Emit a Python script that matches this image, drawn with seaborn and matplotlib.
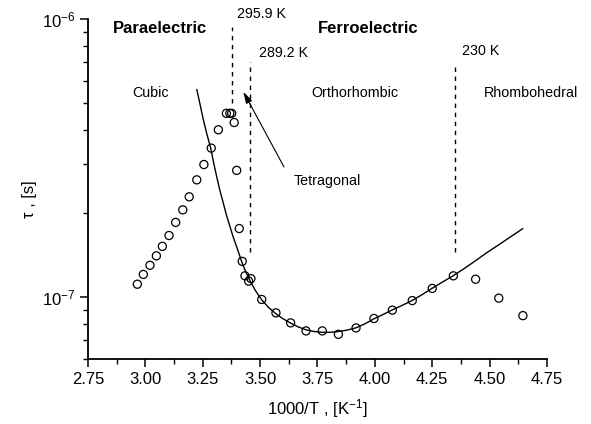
import numpy as np
import pandas as pd
import matplotlib
matplotlib.use("Agg")
import matplotlib.pyplot as plt
import matplotlib.ticker as mticker
import seaborn as sns

# Measured relaxation times, tau [s], vs inverse temperature 1000/T [1/K]
inv_T = [2.965, 2.991, 3.020, 3.048, 3.074, 3.103, 3.132, 3.163, 3.191, 3.224,
         3.255, 3.287, 3.318, 3.353, 3.368, 3.376, 3.387, 3.398, 3.409, 3.422,
         3.434, 3.450, 3.460, 3.507, 3.569, 3.633, 3.700, 3.771, 3.841, 3.918,
         3.996, 4.076, 4.163, 4.250, 4.342, 4.439, 4.540, 4.645]
tau = [1.114e-7, 1.208e-7, 1.303e-7, 1.409e-7, 1.524e-7, 1.667e-7, 1.858e-7,
       2.061e-7, 2.296e-7, 2.642e-7, 2.999e-7, 3.436e-7, 3.999e-7, 4.581e-7,
       4.581e-7, 4.581e-7, 4.246e-7, 2.858e-7, 1.766e-7, 1.346e-7, 1.194e-7,
       1.143e-7, 1.167e-7, 9.82e-8, 8.79e-8, 8.09e-8, 7.57e-8, 7.57e-8,
       7.36e-8, 7.76e-8, 8.39e-8, 8.99e-8, 9.73e-8, 1.076e-7, 1.194e-7,
       1.161e-7, 9.93e-8, 8.59e-8]

# Fitted curve
fit_inv_T = [3.224, 3.238, 3.252, 3.267, 3.285, 3.297, 3.311, 3.325, 3.340,
             3.354, 3.369, 3.383, 3.398, 3.420, 3.438, 3.456, 3.480, 3.507,
             3.536, 3.569, 3.600, 3.633, 3.665, 3.700, 3.735, 3.770, 3.804,
             3.839, 3.879, 3.918, 3.957, 3.996, 4.035, 4.075, 4.118, 4.162,
             4.205, 4.249, 4.293, 4.340, 4.388, 4.436, 4.487, 4.537, 4.589,
             4.645]
fit_tau = [5.585e-7, 4.945e-7, 4.368e-7, 3.889e-7, 3.426e-7, 3.059e-7,
           2.708e-7, 2.416e-7, 2.173e-7, 1.964e-7, 1.790e-7, 1.644e-7,
           1.517e-7, 1.340e-7, 1.230e-7, 1.147e-7, 1.055e-7, 9.795e-8,
           9.204e-8, 8.722e-8, 8.369e-8, 8.076e-8, 7.832e-8, 7.640e-8,
           7.534e-8, 7.483e-8, 7.483e-8, 7.527e-8, 7.621e-8, 7.768e-8,
           8.030e-8, 8.369e-8, 8.665e-8, 9.000e-8, 9.343e-8, 9.730e-8,
           1.021e-7, 1.076e-7, 1.132e-7, 1.193e-7, 1.266e-7, 1.348e-7,
           1.445e-7, 1.538e-7, 1.644e-7, 1.766e-7]

# Phase transition temperatures [K] and vertical extent of their markers
trans_T = [295.9, 289.2, 230.0]
trans_labels = ["295.9 K", "289.2 K", "230 K"]
trans_top = [9.36e-7, 7.02e-7, 6.93e-7]
trans_bottom = [4.97e-7, 1.456e-7, 1.456e-7]

x_ticks = [2.75, 3.00, 3.25, 3.50, 3.75, 4.00, 4.25, 4.50, 4.75]

sns.set_theme(style="ticks")
plt.rcParams["font.family"] = ["Liberation Sans", "DejaVu Sans"]
plt.rcParams["text.color"] = "black"
plt.rcParams["axes.labelcolor"] = "black"
plt.rcParams["mathtext.fontset"] = "custom"
plt.rcParams["mathtext.rm"] = "Liberation Sans"
plt.rcParams["mathtext.it"] = "Liberation Sans:italic"
plt.rcParams["mathtext.bf"] = "Liberation Sans:bold"

fig = plt.figure(figsize=(5.91, 4.24), dpi=100)
ax = fig.add_axes([0.1489, 0.1533, 0.7766, 0.8019])

points = pd.DataFrame({"x": inv_T, "tau": tau})
fit = pd.DataFrame({"x": fit_inv_T, "tau": fit_tau})

sns.lineplot(data=fit, x="x", y="tau", ax=ax, color="black", lw=1.0,
             estimator=None, sort=True)
sns.scatterplot(data=points, x="x", y="tau", ax=ax, marker="o", s=34,
                facecolor="none", edgecolor="black", linewidth=0.9, zorder=3)

for T, top, bot in zip(trans_T, trans_top, trans_bottom):
    xv = 1000.0 / T
    ax.plot([xv, xv], [bot, top], color="black", lw=1.0, ls=(0, (3.2, 3.3)))

ax.set_yscale("log")
ax.set_xlim(2.75, 4.75)
ax.set_ylim(6e-8, 1e-6)
ax.set_xticks(x_ticks)
ax.xaxis.set_major_formatter(mticker.FormatStrFormatter("%.2f"))
ax.xaxis.set_minor_locator(mticker.MultipleLocator(0.125))
ax.yaxis.set_major_locator(mticker.LogLocator(base=10))
ax.yaxis.set_minor_locator(mticker.LogLocator(base=10, subs=np.arange(2, 10)))
ax.yaxis.set_minor_formatter(mticker.NullFormatter())

sns.despine(ax=ax)
for side in ["left", "bottom"]:
    ax.spines[side].set_linewidth(1.3)
    ax.spines[side].set_color("black")
ax.tick_params(which="major", direction="out", length=6, width=1.1,
               labelsize=12, colors="black", pad=3)
ax.tick_params(which="minor", direction="out", length=3.5, width=1.0,
               colors="black")

ax.set_xlabel(r"1000/T , [K$^{\mathdefault{-1}}$]", fontsize=12, color="black")
ax.xaxis.set_label_coords(0.5, -0.113)
ax.set_ylabel("τ , [s]", fontsize=12, color="black")
ax.yaxis.set_label_coords(-0.111, 0.47)

# Phase annotations
ax.text(3.064, 8.88e-7, "Paraelectric", fontsize=12, fontweight="bold",
        ha="center", va="baseline", color="black")
ax.text(3.972, 8.88e-7, "Ferroelectric", fontsize=12, fontweight="bold",
        ha="center", va="baseline", color="black")
label_pos = [(3.399, 1.006e-6), (3.496, 7.32e-7), (4.378, 7.42e-7)]
for lbl, (lx, ly) in zip(trans_labels, label_pos):
    ax.text(lx, ly, lbl, fontsize=10.3, ha="left", va="baseline", color="black")
ax.text(2.945, 5.23e-7, "Cubic", fontsize=10.3, ha="left", va="baseline",
        color="black")
ax.text(3.725, 5.25e-7, "Orthorhombic", fontsize=10.3, ha="left",
        va="baseline", color="black")
ax.text(4.477, 5.25e-7, "Rhombohedral", fontsize=10.3, ha="left",
        va="baseline", color="black")
ax.text(3.645, 2.53e-7, "Tetragonal", fontsize=10.3, ha="left",
        va="baseline", color="black")
ax.annotate("", xy=(3.427, 5.48e-7), xytext=(3.604, 2.94e-7),
            arrowprops=dict(arrowstyle="-|>,head_length=0.7,head_width=0.2",
                            color="black", lw=0.8, mutation_scale=10,
                            shrinkA=0, shrinkB=0))

fig.savefig("out.png", dpi=100)
